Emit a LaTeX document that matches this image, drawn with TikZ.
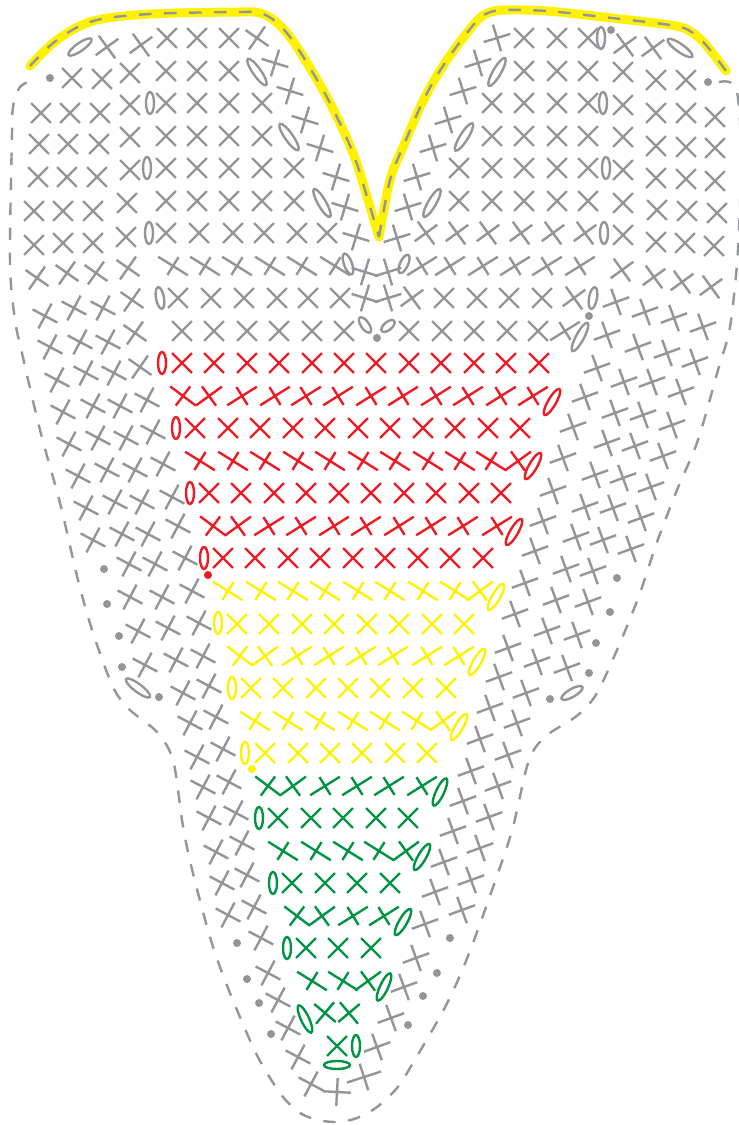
\documentclass[tikz,border=0pt]{standalone}
\usepackage{tikz}
\usepackage{xcolor}
\definecolor{stitchGrey}{HTML}{939598}
\definecolor{stitchRed}{HTML}{ed1c24}
\definecolor{stitchYellow}{HTML}{fff200}
\definecolor{stitchGreen}{HTML}{009444}
% one stroke at angle #4, half length #5, and its cross stroke, half length #6
\newcommand{\crossing}[6]{\draw[stitch, draw=#1] (#2,#3) ++(#4:#5pt) -- ++(#4+180:2*#5pt) (#2,#3) ++(#4+90:#6pt) -- ++(#4+270:2*#6pt);}
\newcommand{\xst}[4]{\crossing{#1}{#2}{#3}{#4+45}{14}{14}}
\newcommand{\fwd}[3]{\crossing{#1}{#2}{#3}{32}{17.5}{10.5}}
\newcommand{\bck}[3]{\crossing{#1}{#2}{#3}{-32}{17.5}{10.5}}
\newcommand{\chain}[5]{\draw[stitch, draw=#1, rotate around={#4:(#2,#3)}] (#2,#3) ellipse [x radius=#5pt, y radius=4pt];}
\newcommand{\leftedge}{(30,66) (57,40) (93,21) (150,14) (240,12) (260,13) (275,21) (290,37) (307,63) (330,103) (353,153) (368,200) (379,237)}
\newcommand{\rightedge}{(379,237) (390,180) (403,147) (425,97) (447,60) (475,23) (488,13) (505,10) (547,11) (603,17) (670,25) (690,31) (706,45) (726,71)}

\begin{document}
\begin{tikzpicture}[
		x=1pt, y=-1pt,
		stitch/.style={line width=2.4pt},
		edge/.style={draw=stitchGrey, line width=2.4pt, dash pattern=on 12.5pt off 12.5pt},
		dot/.style={circle, fill=#1, inner sep=0pt, minimum size=8pt},
	]
	\useasboundingbox (0,0) rectangle (739,1125);
	% Top edge
	\draw[draw=stitchYellow, line width=9pt, line cap=round, line join=round] plot[smooth, tension=0.55] coordinates {\leftedge} plot[smooth, tension=0.55] coordinates {\rightedge};
	\draw[edge] plot[smooth, tension=0.55] coordinates {\leftedge};
	\draw[edge] plot[smooth, tension=0.55] coordinates {\rightedge};
	% Outer edge
	\draw[edge] plot[smooth, tension=0.5] coordinates {(719,82) (736,88) (741,150) (738,250) (730,327) (718,370) (698,440) (677,490) (657,542) (640,593) (620,643) (597,693) (578,715) (550,733) (535,748) (526,770) (513,827) (498,873) (473,943) (458,980) (442,1013) (413,1063) (397,1088) (377,1107) (357,1118) (338,1122) (318,1120) (300,1113) (283,1097) (267,1073) (253,1047) (230,993) (213,947) (198,893) (188,852) (182,820) (173,760) (157,732) (130,710) (113,687) (93,633) (78,580) (60,503) (40,430) (22,353) (15,320) (10,263) (12,133) (13,107) (20,87) (37,78)};
	% Grey stitches
	\foreach \x/\y in {167/38,197/38,229/38,524/38,557/38,588/38,
		72/78,102/79,130/73,166/71,197/71,229/71,524/71,557/71,588/71,623/72,656/80,686/80,
		41/113,70/113,100/113,130/105,166/103,197/103,229/103,262/103,492/103,524/103,557/103,588/103,623/105,656/113,686/113,715/117,
		39/144,68/144,99/144,130/137,166/136,197/136,229/136,262/136,492/136,524/136,557/136,588/136,623/137,656/146,686/147,715/148,
		38/177,67/177,97/177,130/170,166/168,197/168,229/168,262/168,294/168,459/168,492/168,524/168,557/168,588/168,623/170,656/178,686/179,715/181,
		34/211,63/211,93/211,127/203,166/201,197/201,229/201,262/201,294/201,459/201,492/201,524/201,557/201,588/201,623/203,657/210,687/211,717/213,
		34/245,63/243,93/243,126/237,166/233,199/233,233/233,264/233,297/233,327/233,623/235,656/242,685/243,714/246,
		178/298,211/298,244/298,277/298,308/298,340/298,444/298,477/298,509/298,542/298,
		182/331,214/331,247/331,279/331,312/331,344/331,409/331,442/331,474/331,507/331,538/331} {\xst{stitchGrey}{\x}{\y}{0}}
	\foreach \x/\y in {426/233,457/233,488/233,521/233,553/233,585/233,622/270,654/277,682/282,711/287,412/298,574/298,625/45,653/48,107/47,141/45} {\xst{stitchGrey}{\x}{\y}{-9}}
	\foreach \x/\y in {37/278,67/273,96/273,128/268,132/300,135/333,140/367,257/38} {\xst{stitchGrey}{\x}{\y}{10}}
	\foreach \x/\y in {275/63,290/91,305/120,320/148,336/177,345/207,356/237,365/272,365/298} {\xst{stitchGrey}{\x}{\y}{28}}
	\foreach \x/\y in {497/38,478/63,463/91,448/120,433/148,417/177,408/207,397/238,388/272,388/298} {\xst{stitchGrey}{\x}{\y}{-28}}
	% left side
	\foreach \x/\y in {45/316,74/308,103/308,50/347,80/342,108/342,57/380,86/373,114/373,63/412,93/406,120/406,147/400,69/444,98/438,126/438,153/432,
		78/476,107/470,135/470,163/464,86/508,115/502,142/502,172/497,93/540,122/534,148/534,178/526,129/564,155/564,185/558,
		130/597,162/597,192/591,138/631,168/628,199/623,145/665,176/660,203/656,183/693,209/686,190/723,216/717,
		197/757,223/749,203/787,229/782,209/818,236/813,216/852,242/843,222/883,247/875,228/915,254/907,261/938,268/973,278/1000,288/1028,298/1057,311/1084} {\xst{stitchGrey}{\x}{\y}{17}}
	\crossing{stitchGrey}{337}{1092}{-3}{14}{14}
	\crossing{stitchGrey}{364}{1077}{18}{18}{14}
	% right side
	\foreach \x/\y in {616/302,645/312,674/318,703/327,607/335,638/347,667/353,695/362,597/368,624/382,652/382,681/392,585/397,615/413,643/415,672/425,
		573/427,607/443,635/446,663/456,563/458,595/475,623/478,651/487,553/491,585/507,613/508,641/518,543/521,576/537,603/540,631/549,
		535/551,566/569,593/571,525/583,556/600,588/602,515/614,547/631,577/635,508/648,537/662,567/668,499/677,526/693,490/708,517/723,
		480/739,508/755,471/771,498/786,463/801,489/817,453/831,480/848,444/862,471/880,435/892,462/910,425/924,416/958,404/987,391/1018,377/1047} {\xst{stitchGrey}{\x}{\y}{-25}}
	% long strokes
	\foreach \x in {173,205,237,270,302,335} {\bck{stitchGrey}{\x}{266}}
	\foreach \x in {422,450,483,515,547,580} {\fwd{stitchGrey}{\x}{266}}
	\fwd{stitchGrey}{565}{331}
	% Grey chains
	\foreach \x/\y/\a/\l in {80/47/35/14,257/72/-55/16,150/103/90/11,289/137/-55/16,147/168/90/11,322/203/-60/16,149/233/90/11,348/264/-70/11,160/298/-80/11,365/325/-55/9,
		601/38/90/11,680/48/-35/15,497/72/60/16,603/103/90/11,464/137/58/16,606/168/90/11,432/203/60/16,604/233/90/11,404/264/65/10,593/298/80/11,388/326/40/8,580/337/62/16,138/688/-37/15,572/693/30/12} {\chain{stitchGrey}{\x}{\y}{\a}{\l}}
	% Dots
	\foreach \x/\y [count=\i] in {50/78,611/30,708/82,377/338,589/316,104/569,107/604,119/636,122/667,159/697,617/578,610/612,596/643,589/673,550/699,237/943,247/979,259/1003,271/1034,450/938,437/973,423/996,408/1025} {\node[dot=stitchGrey] (dot \i) at (\x,\y) {};}
	\node[dot=stitchRed] (red dot) at (208,575) {};
	\node[dot=stitchYellow] (yellow dot) at (252,769) {};
	% Red rows
	\foreach \x in {182,214,247,279,312,344,376,409,441,474,506,539} {\xst{stitchRed}{\x}{363}{0}}
	\crossing{stitchRed}{183}{396}{-37}{16}{12}
	\crossing{stitchRed}{209}{396}{36}{16}{12}
	\foreach \x in {242,275,306,338,371,403,436,468,501,533} {\fwd{stitchRed}{\x}{396}}
	\foreach \x in {195,228,260,293,325,358,390,423,455,488,520} {\xst{stitchRed}{\x}{428}{0}}
	\foreach \x in {200,233,265,298,330,363,395,428,460,491} {\bck{stitchRed}{\x}{461}}
	\crossing{stitchRed}{518}{461}{36}{16}{12}
	\foreach \x in {209,241,274,306,339,371,404,436,469,501} {\xst{stitchRed}{\x}{493}{0}}
	\crossing{stitchRed}{213}{526}{-37}{16}{12}
	\crossing{stitchRed}{238}{526}{36}{16}{12}
	\foreach \x in {269,301,334,366,399,431,463,497} {\fwd{stitchRed}{\x}{526}}
	\foreach \x in {223,255,288,320,353,385,418,450,483} {\xst{stitchRed}{\x}{558}{0}}
	\foreach \x/\y/\a/\l in {162/363/90/11,552/402/60/15,176/428/90/11,533/466/60/15,190/493/90/11,514/532/60/15,204/558/90/11} {\chain{stitchRed}{\x}{\y}{\a}{\l}}
	% Yellow rows
	\foreach \x in {228,261,293,325,358,390,423,455} {\bck{stitchYellow}{\x}{591}}
	\crossing{stitchYellow}{480}{591}{36}{16}{12}
	\foreach \x in {237,269,302,334,367,399,432,464} {\xst{stitchYellow}{\x}{624}{0}}
	\crossing{stitchYellow}{240}{656}{-37}{16}{12}
	\crossing{stitchYellow}{265}{656}{36}{16}{12}
	\foreach \x in {297,329,361,393,427,459} {\fwd{stitchYellow}{\x}{656}}
	\foreach \x in {251,283,316,348,380,413,446} {\xst{stitchYellow}{\x}{688}{0}}
	\foreach \x in {255,288,320,353,385,417} {\bck{stitchYellow}{\x}{721}}
	\crossing{stitchYellow}{443}{721}{36}{16}{12}
	\foreach \x in {265,298,330,362,395,427} {\xst{stitchYellow}{\x}{753}{0}}
	\foreach \x/\y/\a/\l in {496/597/60/15,218/623/90/11,477/662/60/15,232/688/90/11,459/727/60/15,245/753/90/11} {\chain{stitchYellow}{\x}{\y}{\a}{\l}}
	% Green rows
	\crossing{stitchGreen}{268}{786}{-37}{16}{12}
	\crossing{stitchGreen}{293}{786}{36}{16}{12}
	\foreach \x in {325,357,389,422} {\fwd{stitchGreen}{\x}{786}}
	\foreach \x in {278,311,343,376,408} {\xst{stitchGreen}{\x}{818}{0}}
	\foreach \x in {283,316,348,379} {\bck{stitchGreen}{\x}{851}}
	\crossing{stitchGreen}{406}{851}{36}{16}{12}
	\foreach \x in {292,325,357,390} {\xst{stitchGreen}{\x}{883}{0}}
	\crossing{stitchGreen}{297}{916}{-37}{16}{12}
	\crossing{stitchGreen}{322}{916}{36}{16}{12}
	\foreach \x in {353,384} {\fwd{stitchGreen}{\x}{916}}
	\foreach \x in {306,338,371} {\xst{stitchGreen}{\x}{948}{0}}
	\foreach \x in {312,343} {\bck{stitchGreen}{\x}{981}}
	\crossing{stitchGreen}{368}{981}{36}{16}{12}
	\xst{stitchGreen}{325}{1013}{5}
	\xst{stitchGreen}{349}{1013}{-5}
	\xst{stitchGreen}{337}{1046}{0}
	\foreach \x/\y/\a/\l in {440/792/65/15,259/818/90/11,422/857/60/15,273/883/90/11,403/922/60/15,287/948/90/11,384/987/65/15,305/1019/-65/15,356/1046/90/11,337/1065/0/13} {\chain{stitchGreen}{\x}{\y}{\a}{\l}}
\end{tikzpicture}
\end{document}
